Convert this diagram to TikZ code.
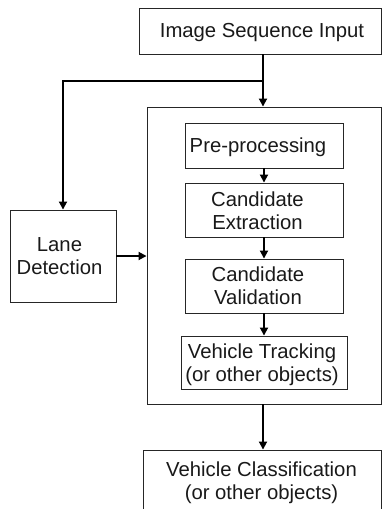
\documentclass[tikz,border=0pt]{standalone}
\usepackage{fontspec}
\setmainfont{Liberation Sans}
\usetikzlibrary{arrows.meta}
% centred lines of box text, moved by #1 horizontally and #2 vertically
\newcommand\boxtext[3]{\raisebox{-#2}[\height][\depth]{\hspace*{#1}\begin{tabular}{@{}c@{}}#3\end{tabular}\hspace*{-#1}}}
\begin{document}
\begin{tikzpicture}[x=1pt,y=-1pt,
  box/.style={draw=black!85, line width=0.9pt, inner sep=0pt,
    font=\fontsize{20.3pt}{23.3pt}\selectfont, text=black!90},
  flow/.style={line width=1.8pt, -{Triangle[length=8pt,width=8pt]}},
  link/.style={line width=1.8pt}]
\useasboundingbox (0,0) rectangle (382,509);
\clip (0,0) rectangle (382,509);

% input, pipeline container and side branch
\node[box, minimum width=242pt, minimum height=46pt] (isi) at (260,31) {\boxtext{2pt}{2pt}{Image Sequence Input}};
\node[box, minimum width=234pt, minimum height=297pt] (cont) at (264,255.5) {};
\node[box, minimum width=106pt, minimum height=92pt] (lane) at (63,256) {\boxtext{-3.5pt}{2.5pt}{Lane\\Detection}};

% stages inside the container
\node[box, minimum width=158pt, minimum height=45pt] (pre) at (264,145.5) {\boxtext{-6pt}{2pt}{Pre-processing}};
\node[box, minimum width=158pt, minimum height=54pt] (ce) at (264,210) {\boxtext{-6.5pt}{3pt}{Candidate\\Extraction}};
\node[box, minimum width=158pt, minimum height=54pt] (cv) at (264,286) {\boxtext{-6pt}{2.5pt}{Candidate\\Validation}};
\node[box, minimum width=166pt, minimum height=53pt] (vt) at (264,362.5) {\boxtext{-2pt}{2.5pt}{Vehicle Tracking\\(or other objects)}};

% output
\node[box, minimum width=238pt, minimum height=66pt] (vc) at (262,483) {\boxtext{-0.5pt}{0pt}{Vehicle Classification\\(or other objects)}};

% connectors
\coordinate (split) at (263,81);
\draw[link] (split |- isi.south) -- (split);
\draw[flow] (split) -- (split |- cont.north);
\draw[flow] (split) -| (lane.north);
\draw[flow] (lane.east) -- (cont.west |- lane.east);
\draw[flow] (pre.south) -- (ce.north);
\draw[flow] (ce.south) -- (cv.north);
\draw[flow] (cv.south) -- (vt.north);
\draw[flow] (split |- cont.south) -- (split |- vc.north);
\end{tikzpicture}
\end{document}
